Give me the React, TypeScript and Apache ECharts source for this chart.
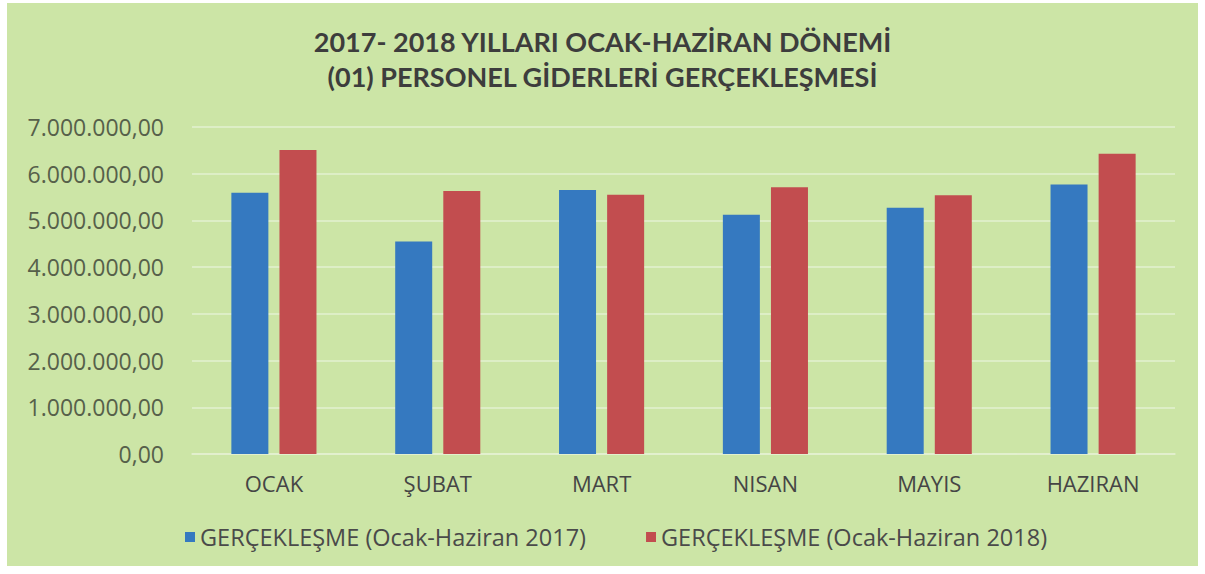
import React, { useEffect, useRef } from "react";
import * as echarts from "echarts";

const titleLines = [
  "2017- 2018 YILLARI OCAK-HAZİRAN DÖNEMİ",
  "(01) PERSONEL GİDERLERİ GERÇEKLEŞMESİ",
];
const categories = ["OCAK", "ŞUBAT", "MART", "NISAN", "MAYIS", "HAZIRAN"];
const seriesNames = [
  "GERÇEKLEŞME (Ocak-Haziran 2017)",
  "GERÇEKLEŞME (Ocak-Haziran 2018)",
];
const values2017 = [5590000, 4550000, 5650000, 5120000, 5270000, 5770000];
const values2018 = [6510000, 5630000, 5550000, 5710000, 5540000, 6430000];
const yMin = 0;
const yMax = 7000000;
const yStep = 1000000;

function formatTr(v: number): string {
  const fixed = v.toFixed(2);
  const [intPart, dec] = fixed.split(".");
  const withDots = intPart.replace(/\B(?=(\d{3})+(?!\d))/g, ".");
  return withDots + "," + dec;
}

export default function App() {
  const ref = useRef<HTMLDivElement>(null);
  useEffect(() => {
    if (!ref.current) return;
    const chart = echarts.init(ref.current, undefined, { renderer: "svg" });
    chart.setOption({
      animation: false,
      backgroundColor: "#cce5a6",
      title: {
        text: titleLines.join("\n"),
        left: "center",
        top: 16,
        textStyle: {
          fontFamily: "Lato",
          fontWeight: "bold",
          fontSize: 27,
          lineHeight: 35,
          color: "#3d3d3d",
        },
      },
      legend: {
        data: seriesNames,
        left: 173,
        top: 517,
        icon: "rect",
        itemWidth: 10,
        itemHeight: 10,
        itemGap: 60,
        textStyle: {
          fontFamily: "Open Sans",
          fontSize: 23.5,
          color: "#4a4a4a",
        },
      },
      grid: { left: 185, right: 23, top: 124, bottom: 112, containLabel: false },
      xAxis: {
        type: "category",
        data: categories,
        axisLine: { show: true, lineStyle: { color: "#e3f0d0", width: 1.5 } },
        axisTick: { show: false },
        axisLabel: {
          margin: 18,
          fontFamily: "Open Sans",
          fontSize: 22,
          color: "#454545",
        },
      },
      yAxis: {
        type: "value",
        min: yMin,
        max: yMax,
        interval: yStep,
        axisLine: { show: false },
        axisTick: { show: false },
        splitLine: { lineStyle: { color: "#e3f0d0", width: 1.5 } },
        axisLabel: {
          margin: 28,
          fontFamily: "Open Sans",
          fontSize: 23,
          color: "#56604a",
          formatter: (v: number) => formatTr(v),
        },
      },
      series: [
        {
          name: seriesNames[0],
          type: "bar",
          data: values2017,
          barWidth: 37,
          barGap: "30%",
          itemStyle: { color: "#3579c0" },
        },
        {
          name: seriesNames[1],
          type: "bar",
          data: values2018,
          barWidth: 37,
          barGap: "30%",
          itemStyle: { color: "#c24d4f" },
        },
      ],
    });
    return () => chart.dispose();
  }, []);
  return (
    <div
      ref={ref}
      style={{ position: "absolute", left: 7, top: 3, width: 1191, height: 563 }}
    />
  );
}
